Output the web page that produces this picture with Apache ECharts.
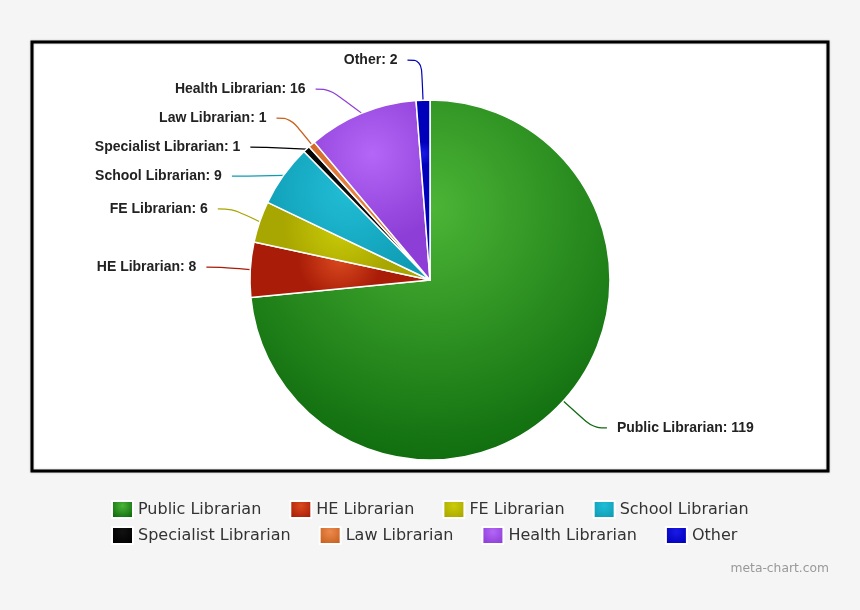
<!DOCTYPE html>
<html>
<head>
<meta charset="utf-8">
<script src="https://cdn.jsdelivr.net/npm/echarts@6/dist/echarts.min.js"></script>
<style>
html,body{margin:0;padding:0;background:#f5f5f5;}
#chart{width:860px;height:610px;}
</style>
</head>
<body>
<div id="chart"></div>
<script>
const categories = ['Public Librarian','HE Librarian','FE Librarian','School Librarian','Specialist Librarian','Law Librarian','Health Librarian','Other'];
const values = [119, 8, 6, 9, 1, 1, 16, 2];
const legendRow1 = ['Public Librarian','HE Librarian','FE Librarian','School Librarian'];
const legendRow2 = ['Specialist Librarian','Law Librarian','Health Librarian','Other'];
const lightColors = ['#4cb536','#da4a1e','#cccc08','#22bdd6','#111111','#ec8a4c','#b466f7','#1a1ae6'];
const darkColors  = ['#0c690c','#a81c08','#a8a600','#0e9cb4','#000000','#c8601e','#8c3ed6','#0000bb'];

const chart = echarts.init(document.getElementById('chart'), null, {renderer:'canvas'});
const grad = (i) => new echarts.graphic.RadialGradient(0.5, 0.3, 0.75, [
  {offset:0, color: lightColors[i]}, {offset:1, color: darkColors[i]}
]);
const data = categories.map((c,i) => ({
  name: c, value: values[i],
  itemStyle: {color: grad(i)},
  labelLine: {lineStyle: {color: darkColors[i]}}
}));
const legendText = {fontFamily:'DejaVu Sans', fontSize:16, color:'#333'};
chart.setOption({
  backgroundColor:'#f5f5f5',
  animation:false,
  graphic:[{type:'rect', shape:{x:32,y:42,width:796,height:429}, style:{fill:'#fff', stroke:'#000', lineWidth:3, shadowColor:'rgba(0,0,0,0.3)', shadowBlur:2}, z:-10}],
  title:{text:'meta-chart.com', right:26, top:558, textStyle:{fontFamily:'DejaVu Sans', fontSize:12.3, fontWeight:'normal', color:'#999'}},
  legend:[
    {data:legendRow1, left:106, top:495, icon:'rect', itemWidth:21, itemHeight:17, itemGap:28, textStyle:legendText, selectedMode:false},
    {data:legendRow2, left:106, top:521, icon:'rect', itemWidth:21, itemHeight:17, itemGap:28, textStyle:legendText, selectedMode:false}
  ],
  series:[{
    type:'pie',
    center:[430,280],
    radius:180,
    startAngle:90,
    clockwise:true,
    avoidLabelOverlap:true,
    itemStyle:{borderColor:'#fff', borderWidth:1.5},
    label:{formatter:'{b}: {c}', fontFamily:'Liberation Sans', fontWeight:'bold', fontSize:14, color:'#222', distanceToLabelLine:10, lineHeight:16, padding:[5.5,0,5.5,0]},
    labelLine:{length:40, length2:14, smooth:0.4, lineStyle:{width:1.2}},
    data:data
  }]
});
</script>
</body>
</html>
